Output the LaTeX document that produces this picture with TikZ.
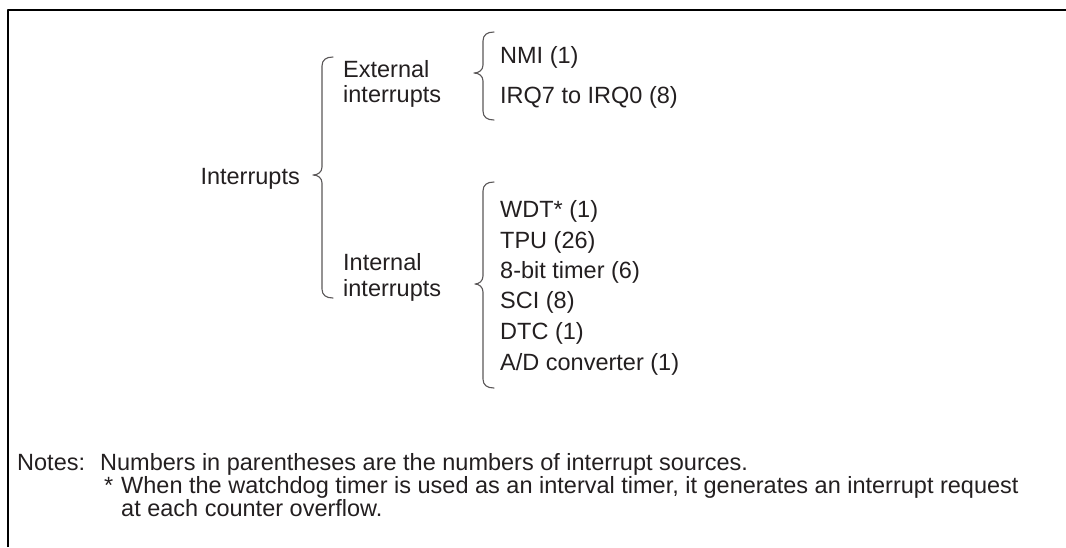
\documentclass[tikz,border=0pt]{standalone}
\usepackage{fontspec}
\setmainfont{Liberation Sans}
\definecolor{ink}{HTML}{231F20}

\begin{document}
\begin{tikzpicture}[x=1pt, y=-1pt, line cap=round, line join=round,
    lbl/.style={anchor=base west, inner sep=0pt, text=ink, font=\fontsize{23.5}{28}\selectfont},
    note/.style={lbl},
    brace/.style={draw=ink!75, line width=1.1pt}]

  %% ==== frame (left + top only) ====
  \draw[line width=2.4pt, line cap=butt] (8,547) -- (8,10) -- (1066,10);

  %% ==== braces ====
  % big one: Interrupts
  \draw[brace] (333,57) .. controls (326,57) and (322,60) .. (322,66) -- (322,167)
    .. controls (322,172) and (318,175) .. (313,175)
    .. controls (318,175) and (322,178) .. (322,183) -- (322,289)
    .. controls (322,295) and (326,298) .. (333,298);
  % external
  \draw[brace] (494,32) .. controls (487,32) and (483,35) .. (483,41) -- (483,65)
    .. controls (483,70) and (479,73) .. (474,73)
    .. controls (479,73) and (483,76) .. (483,81) -- (483,111)
    .. controls (483,117) and (487,120) .. (494,120);
  % internal
  \draw[brace] (494,182) .. controls (487,182) and (483,185) .. (483,191) -- (483,276)
    .. controls (483,281) and (479,284) .. (475,284)
    .. controls (479,284) and (483,287) .. (483,292) -- (483,379)
    .. controls (483,385) and (487,388) .. (494,388);

  %% ==== labels ====
  \node[lbl, anchor=base east] (irq) at (300,184) {Interrupts};
  \node[lbl] (ext1) at (343,77) {External};
  \node[lbl] (ext2) at (343,102) {interrupts};
  \node[lbl] (int1) at (343,270) {Internal};
  \node[lbl] (int2) at (343,296) {interrupts};

  \node[lbl] (nmi) at (500,63) {NMI (1)};
  \node[lbl] (irqn) at (500,103) {IRQ7 to IRQ0 (8)};

  \node[lbl] (wdt) at (500,217) {WDT* (1)};
  \node[lbl] (tpu) at (500,248) {TPU (26)};
  \node[lbl] (tmr) at (500,278) {8-bit timer (6)};
  \node[lbl] (sci) at (500,308) {SCI (8)};
  \node[lbl] (dtc) at (500,339) {DTC (1)};
  \node[lbl] (adc) at (500,370) {A/D converter (1)};

  %% ==== notes ====
  \node[note] (nhead) at (17,470) {Notes:};
  \node[note] (nline1) at (100,470) {Numbers in parentheses are the numbers of interrupt sources.};
  \node[note] (nstar) at (104,493) {*};
  \node[note] (nline2) at (121,493) {When the watchdog timer is used as an interval timer, it generates an interrupt request};
  \node[note] (nline3) at (121,516) {at each counter overflow.};

  \pgfresetboundingbox
  \path[use as bounding box] (0,0) rectangle (1066,547);
\end{tikzpicture}
\end{document}
